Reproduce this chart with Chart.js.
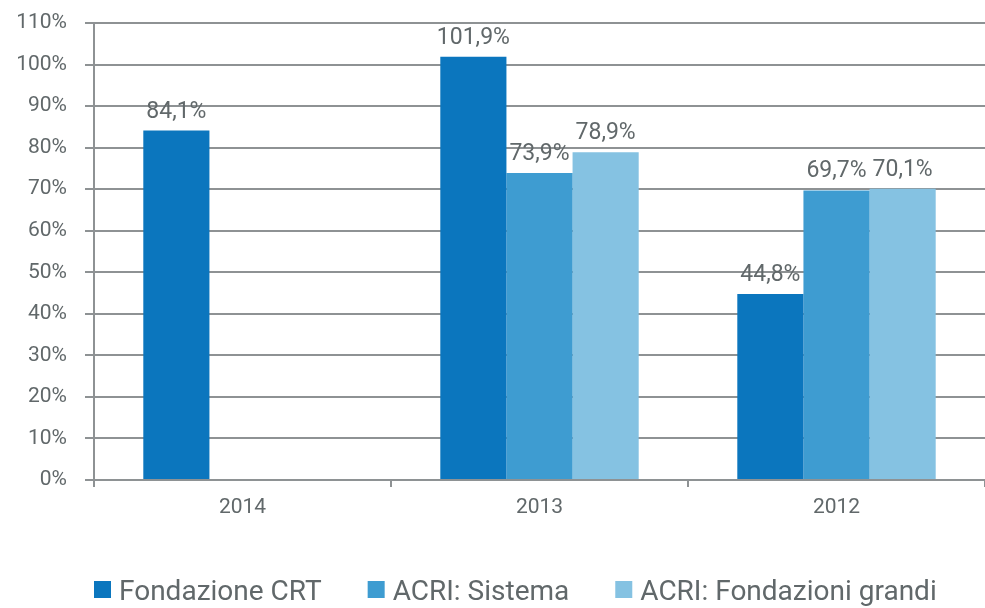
<!DOCTYPE html>
<html>
<head>
<meta charset="utf-8">
<script src="https://cdn.jsdelivr.net/npm/chart.js@4.4.1/dist/chart.umd.min.js"></script>
<style>
  html, body { margin: 0; padding: 0; background: #fff; }
  #wrap { width: 985px; height: 608px; position: relative; }
</style>
</head>
<body>
<div id="wrap"><canvas id="chart"></canvas></div>
<script>
const years = ['2014', '2013', '2012'];
const crt = [84.1, 101.9, 44.8];
const acriSistema = [null, 73.9, 69.7];
const acriGrandi = [null, 78.9, 70.1];
const seriesNames = ['Fondazione CRT', 'ACRI: Sistema', 'ACRI: Fondazioni grandi'];
const seriesColors = ['#0b76be', '#3e9cd1', '#85c2e2'];

const textColor = '#61686a';
const lineColor = '#8e9294';
const fontFamily = 'Roboto, "DejaVu Sans", sans-serif';

// percentage with italian decimal comma
const pct = v => v.toFixed(1).replace('.', ',') + '%';

const valueLabels = {
  id: 'valueLabels',
  afterDatasetsDraw(chart) {
    const { ctx } = chart;
    ctx.save();
    ctx.font = '23px ' + fontFamily;
    ctx.fillStyle = textColor;
    ctx.textAlign = 'center';
    ctx.textBaseline = 'alphabetic';
    chart.data.datasets.forEach((ds, i) => {
      chart.getDatasetMeta(i).data.forEach((bar, j) => {
        const v = ds.data[j];
        if (v === null) return;
        ctx.fillText(pct(v), bar.x, bar.y - 13);
      });
    });
    ctx.restore();
  }
};

// legend row under the axis: square swatch + name, fixed gaps between items
const bottomLegend = {
  id: 'bottomLegend',
  afterDraw(chart) {
    const { ctx, chartArea } = chart;
    const box = 17, gap = 8, itemGap = 46;
    const top = 581;
    let x = chartArea.left;
    ctx.save();
    ctx.font = '28px ' + fontFamily;
    ctx.textBaseline = 'alphabetic';
    ctx.textAlign = 'left';
    chart.data.datasets.forEach(ds => {
      ctx.fillStyle = ds.backgroundColor;
      ctx.fillRect(x, top, box, box);
      ctx.fillStyle = textColor;
      ctx.fillText(ds.label, x + box + gap, top + 19);
      x += box + gap + ctx.measureText(ds.label).width + itemGap;
    });
    ctx.restore();
  }
};

new Chart(document.getElementById('chart'), {
  type: 'bar',
  data: {
    labels: years,
    datasets: seriesNames.map((name, i) => ({
      label: name,
      data: [crt, acriSistema, acriGrandi][i],
      backgroundColor: seriesColors[i]
    }))
  },
  options: {
    responsive: true,
    maintainAspectRatio: false,
    animation: false,
    datasets: { bar: { categoryPercentage: 0.668, barPercentage: 1.0 } },
    layout: { padding: { top: 23, right: 0, left: 0, bottom: 0 } },
    plugins: {
      tooltip: { enabled: false },
      legend: { display: false }
    },
    scales: {
      x: {
        grid: { display: true, offset: true, drawOnChartArea: false, color: lineColor, lineWidth: 2, tickLength: 7 },
        border: { display: true, color: lineColor, width: 2 },
        ticks: { color: textColor, font: { family: fontFamily, size: 21 }, padding: 8 },
        afterFit(scale) { scale.height = 128; }
      },
      y: {
        min: 0,
        max: 110,
        ticks: {
          stepSize: 10,
          color: textColor,
          font: { family: fontFamily, size: 21 },
          padding: 18,
          callback: v => v + '%'
        },
        grid: { color: lineColor, lineWidth: 2, tickLength: 9 },
        border: { display: true, color: lineColor, width: 2 },
        afterFit(scale) {
          scale.width = 94;
          scale.paddingTop = 0;
          scale.paddingBottom = 0;
        }
      }
    }
  },
  plugins: [valueLabels, bottomLegend]
});
</script>
</body>
</html>
